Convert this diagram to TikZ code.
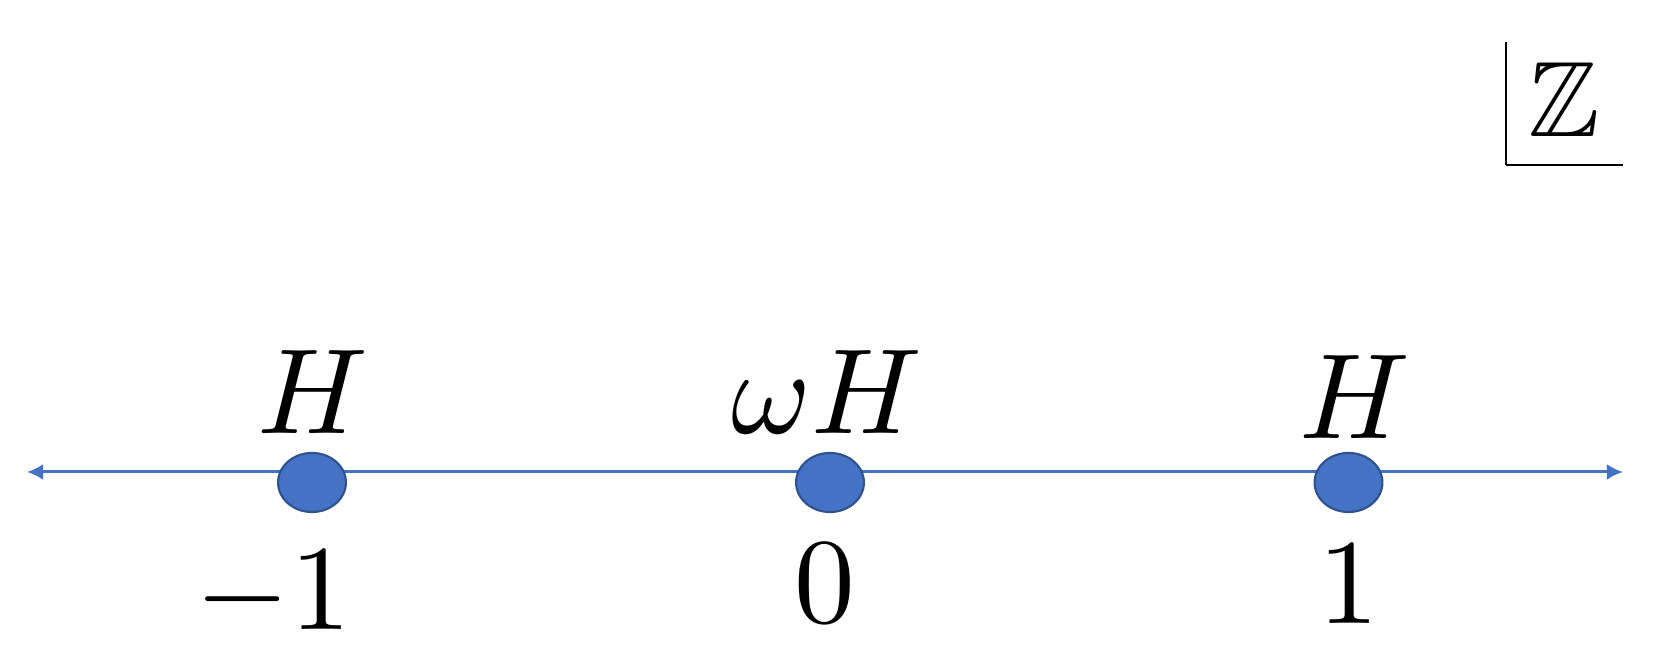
\documentclass[tikz,border=0pt]{standalone}
\usepackage{amsmath}
\usepackage{amsfonts}
\usepackage{amssymb}
\usepackage{tikz}
\usetikzlibrary{arrows.meta,shapes.geometric}
\definecolor{dotblue}{HTML}{4472C4}
\definecolor{dotedge}{HTML}{2F528F}

\begin{document}
\begin{tikzpicture}[x=0.01cm,y=-0.01cm,
  axis/.style={dotblue,line width=0.85pt,{Latex[length=4.6pt,width=4.6pt]}-{Latex[length=4.6pt,width=4.6pt]}},
  coset/.style={ellipse,fill=dotblue,draw=dotedge,line width=0.6pt,minimum width=19.3pt,minimum height=16.8pt,inner sep=0pt},
  lab/.style={scale=3.45,anchor=base,inner sep=0pt}]
\useasboundingbox (0,0) rectangle (1653,671);
\coordinate (west) at (27,472);
\coordinate (east) at (1623,472);
\draw[axis] (west) -- (east);
\node[coset] (dl) at (312,482.5) {};
\node[coset] (dm) at (830,482.5) {};
\node[coset] (dr) at (1348.5,482.5) {};
\node[lab] (hl) at (313,434) {$H$};
\node[lab] (hm) at (827,434) {$\omega H$};
\node[lab] (hr) at (1355,439) {$H$};
\node[lab] (nl) at (273.5,630) {$-1$};
\node[lab] (nm) at (824.5,623) {$0$};
\node[lab] (nr) at (1349,624) {$1$};
\node[scale=3.05,anchor=base,inner sep=0pt] (zz) at (1564,137) {$\mathbb{Z}$};
\draw[line width=0.55pt] (1506,42) -- (1506,165);
\draw[line width=0.3pt] (1506,165) -- (1623,165);
\end{tikzpicture}
\end{document}
